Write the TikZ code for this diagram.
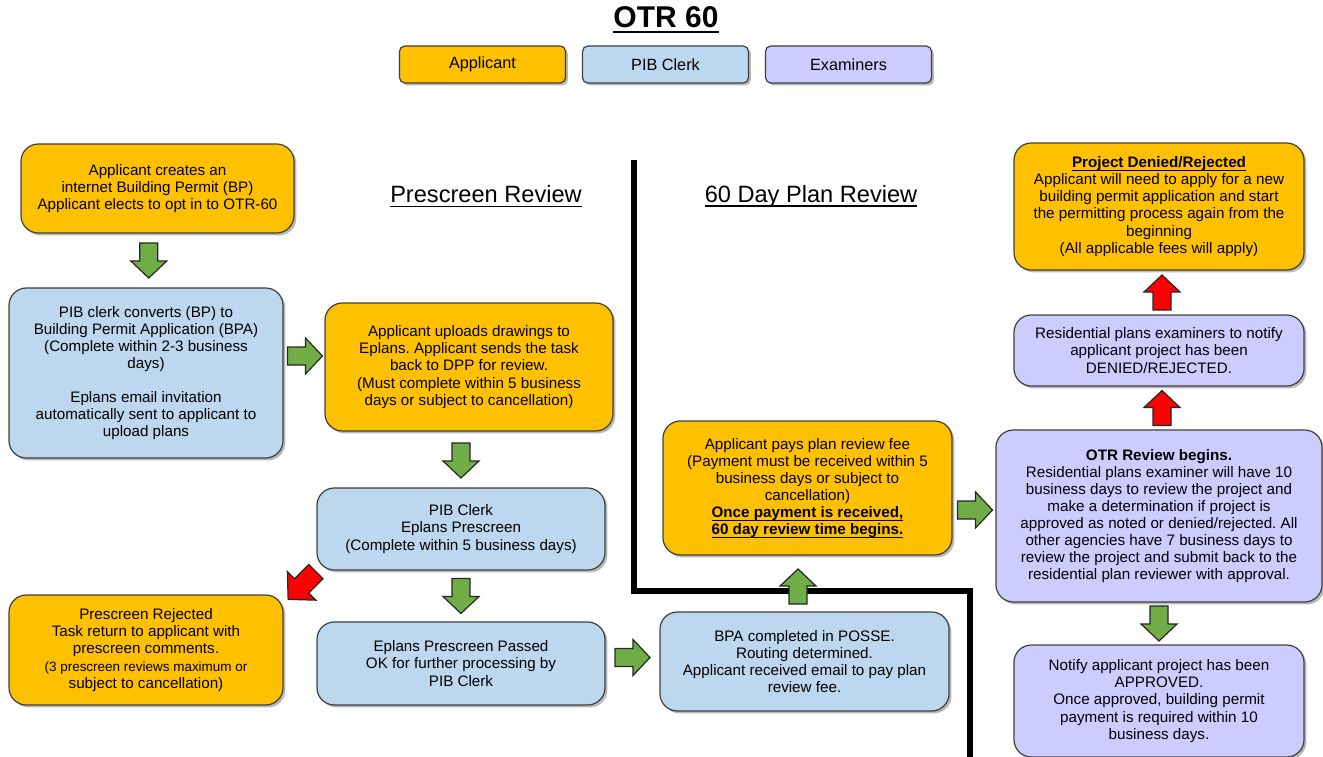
\documentclass[tikz,border=0pt]{standalone}
\usepackage{fontspec}
\setmainfont{Liberation Sans}
\usetikzlibrary{shadows,calc}
\frenchspacing

\definecolor{applicant}{HTML}{FFC000}
\definecolor{clerk}{HTML}{BDD7EE}
\definecolor{examiner}{HTML}{CCCCFF}
\definecolor{go}{HTML}{70AD47}
\definecolor{stop}{HTML}{FF0000}
\definecolor{edge}{HTML}{3F3F3F}

% underline: #1 rule thickness, #2 distance below the baseline, #3 text
\newcommand\under[3]{\leavevmode\setbox0\hbox{#3}%
  \rlap{\vrule height -#2 depth \dimexpr#2+#1\relax width \wd0}\box0}
% bold, underlined emphasis inside the boxes
\newcommand\ulbold[1]{\under{0.9pt}{1.6pt}{\textbf{#1}}}

\tikzset{
  box/.style={draw=edge, line width=0.9pt, rounded corners=13pt, align=center,
    inner sep=4pt, font=\fontsize{11.4}{12.8}\selectfont,
    drop shadow={shadow xshift=1.8pt, shadow yshift=-1.8pt, fill=black, opacity=0.28}},
  % box size given in the picture's units (0.75pt each)
  size/.style 2 args={minimum width=0.75*#1, minimum height=0.75*#2},
  appbox/.style={box, fill=applicant},
  clerkbox/.style={box, fill=clerk},
  exambox/.style={box, fill=examiner},
  keybox/.style={box, rounded corners=4pt, size={166}{37}, font=\fontsize{12.2}{14}\selectfont},
  heading/.style={font=\fontsize{17.7}{21}\selectfont},
  divider/.style={line width=4pt, line join=miter},
  pics/blockarrow/.style={code={
    \draw[line width=0.9pt, draw=black!85, fill=#1]
      (-17.5,-9) -- (0.5,-9) -- (0.5,-18) -- (17.5,0) -- (0.5,18) -- (0.5,9) -- (-17.5,9) -- cycle;}},
}

\begin{document}
\begin{tikzpicture}[x=0.75pt, y=-0.75pt]
\useasboundingbox (0,0) rectangle (1323,756);

% title and colour key
\node (title) at (666,20) {\fontsize{22.5}{26}\selectfont\bfseries\under{2pt}{2.5pt}{OTR 60}};
\node[keybox, fill=applicant] (keyA) at (482.5,64.5) {Applicant};
\node[keybox, fill=clerk]     (keyC) at (665.5,64.5) {PIB Clerk};
\node[keybox, fill=examiner]  (keyE) at (848.5,64.5) {Examiners};

% phase headings
\node[heading] (hpre) at (486,196) {\under{1pt}{2.5pt}{Prescreen Review}};
\node[heading] (h60)  at (811,196) {\under{1pt}{2.5pt}{60 Day Plan Review}};

% boundary between the two phases
\draw[divider] (634,160) -- (634,591) -- (970,591) -- (970,760);

% prescreen review
\node[appbox, size={273}{89}] (A1) at (157.5,188.5)
  {Applicant creates an\\ internet Building Permit (BP)\\ Applicant elects to opt in to OTR-60};
\node[clerkbox, size={274}{170}] (B1) at (146,373)
  {PIB clerk converts (BP) to\\ Building Permit Application (BPA)\\ (Complete within 2-3 business\\ days)\\[12.8pt]
   Eplans email invitation\\ automatically sent to applicant to\\ upload plans};
\node[appbox, size={288}{128}] (A2) at (469,367)
  {Applicant uploads drawings to\\ Eplans. Applicant sends the task\\ back to DPP for review.\\
   (Must complete within 5 business\\ days or subject to cancellation)};
\node[clerkbox, size={288}{82}] (B2) at (461,529)
  {PIB Clerk\\ Eplans Prescreen\\ (Complete within 5 business days)};
\node[clerkbox, size={288}{83}] (B3) at (461,663.5)
  {Eplans Prescreen Passed\\ OK for further processing by\\ PIB Clerk};
\node[appbox, size={274}{110}] (A3) at (146,650)
  {Prescreen Rejected\\ Task return to applicant with\\ prescreen comments.\\
   \fontsize{10.1}{11.8}\selectfont (3 prescreen reviews maximum or\\ subject to cancellation)};

% 60 day plan review
\node[clerkbox, size={289}{99}] (B4) at (804.5,661.5)
  {BPA completed in POSSE.\\ Routing determined.\\ Applicant received email to pay plan\\ review fee.};
\node[appbox, size={289}{134}] (A4) at (807.5,488)
  {Applicant pays plan review fee\\ (Payment must be received within 5\\ business days or subject to\\ cancellation)\\
   \ulbold{Once payment is received,}\\ \ulbold{60 day review time begins.}};
\node[exambox, size={326}{172}] (E1) at (1159,516)
  {\textbf{OTR Review begins.}\\ Residential plans examiner will have 10\\ business days to review the project and\\
   make a determination if project is\\ approved as noted or denied/rejected. All\\
   other agencies have 7 business days to\\ review the project and submit back to the\\
   residential plan reviewer with approval.};
\node[exambox, size={290}{71}] (E2) at (1159,350.5)
  {Residential plans examiners to notify\\ applicant project has been\\ DENIED/REJECTED.};
\node[appbox, size={290}{127}] (A5) at (1159,206.5)
  {\ulbold{Project Denied/Rejected}\\ Applicant will need to apply for a new\\ building permit application and start\\
   the permitting process again from the\\ beginning\\ (All applicable fees will apply)};
\node[exambox, size={290}{112}] (E3) at (1159,701)
  {Notify applicant project has been\\ APPROVED.\\ Once approved, building permit\\ payment is required within 10\\ business days.};

% block arrows between the steps
\pic[rotate=-90] at ($(A1.south)!.5!(B1.north)+(-3,0)$) {blockarrow=go};
\pic at ($(B1.east)!.5!(A2.west)+(1,-14)$) {blockarrow=go};
\pic[rotate=-90] at ($(A2.south)!.5!(B2.north)+(-4,1)$) {blockarrow=go};
\pic[rotate=-90] at ($(B2.south)!.5!(B3.north)$) {blockarrow=go};
\pic[rotate=225, scale=1.12] at ($(B2.south west)!.5!(A3.north east)+(2,3)$) {blockarrow=stop};
\pic at ($(B3.east)!.5!(B4.west)+(0,-5)$) {blockarrow=go};
\pic[rotate=90] at ($(B4.north)!.5!(A4.south)+(-8,3)$) {blockarrow=go};
\pic at ($(A4.east)!.5!(E1.west)+(1,8)$) {blockarrow=go};
\pic[rotate=90] at ($(E1.north)!.5!(E2.south)+(3,0)$) {blockarrow=stop};
\pic[rotate=90] at ($(E2.north)!.5!(A5.south)+(3,0)$) {blockarrow=stop};
\pic[rotate=-90] at ($(E1.south)!.5!(E3.north)$) {blockarrow=go};
\end{tikzpicture}
\end{document}
